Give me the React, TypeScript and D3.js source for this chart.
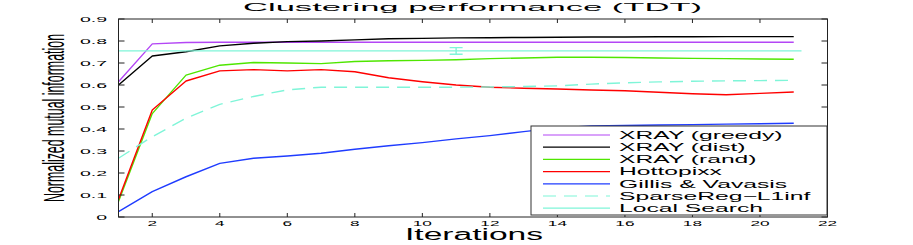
import React from "react";
import * as d3 from "d3";

const iterations = d3.range(1, 22);
const xTicks = [2, 4, 6, 8, 10, 12, 14, 16, 18, 20, 22];
const yTicks = [0, 0.1, 0.2, 0.3, 0.4, 0.5, 0.6, 0.7, 0.8, 0.9];

const xrayGreedy = [0.615, 0.787, 0.793, 0.794, 0.794, 0.794, 0.794, 0.794, 0.794, 0.794, 0.794, 0.794, 0.794, 0.794, 0.794, 0.794, 0.794, 0.794, 0.794, 0.794, 0.794];
const xrayDist = [0.6, 0.732, 0.751, 0.778, 0.79, 0.797, 0.8, 0.805, 0.81, 0.812, 0.814, 0.815, 0.816, 0.817, 0.818, 0.818, 0.819, 0.819, 0.82, 0.82, 0.82];
const xrayRand = [0.07, 0.47, 0.645, 0.69, 0.702, 0.7, 0.697, 0.707, 0.71, 0.712, 0.715, 0.72, 0.723, 0.726, 0.726, 0.725, 0.723, 0.721, 0.72, 0.718, 0.717];
const hottopixx = [0.08, 0.486, 0.618, 0.664, 0.67, 0.664, 0.67, 0.66, 0.633, 0.615, 0.6, 0.59, 0.585, 0.582, 0.577, 0.574, 0.567, 0.56, 0.556, 0.562, 0.568];
const gillisVavasis = [0.024, 0.115, 0.183, 0.244, 0.267, 0.277, 0.29, 0.308, 0.324, 0.338, 0.355, 0.37, 0.388, 0.405, 0.414, 0.416, 0.418, 0.42, 0.422, 0.424, 0.426];
const sparseReg = [0.267, 0.365, 0.449, 0.512, 0.548, 0.578, 0.59, 0.59, 0.59, 0.59, 0.59, 0.591, 0.593, 0.596, 0.604, 0.61, 0.614, 0.617, 0.619, 0.62, 0.621];
const localSearchX = [1, 21.23];
const localSearchValue = 0.755;
const localSearchErrX = 11;
const localSearchErr = 0.015;

const seriesNames = ["XRAY (greedy)", "XRAY (dist)", "XRAY (rand)", "Hottopixx", "Gillis & Vavasis", "SparseReg\u2212L1inf", "Local Search"];

const colors = ["#b446f5", "#000000", "#4fe600", "#ff0000", "#1f3cff", "#7ff5d8", "#7ff5d8"];

export default function App() {
  const W = 913, H = 245;
  const x = d3.scaleLinear().domain([1, 22]).range([118.5, 827.5]);
  const y = d3.scaleLinear().domain([0, 0.9]).range([217, 19]);
  const line = d3.line<[number, number]>().x((d) => x(d[0])).y((d) => y(d[1]));
  const seriesVals = [xrayGreedy, xrayDist, xrayRand, hottopixx, gillisVavasis, sparseReg];
  const font = "'Liberation Sans', Arial, sans-serif";
  const [x0, x1] = x.range();
  const [yb, yt] = y.range();

  const legendX0 = 531, legendX1 = 827, legendY0 = 126, legendY1 = 215;
  const rowY = (i: number) => 135 + i * 12.2;

  return (
    <svg width={W} height={H} style={{ position: "absolute", left: 0, top: 0, background: "#fff" }}>
      <rect x={0} y={0} width={W} height={H} fill="#fff" />
      {/* title */}
      <text x={472.5} y={10.5} fontFamily={font} fontSize={10.5} textAnchor="middle" textLength={459} lengthAdjust="spacingAndGlyphs">Clustering performance (TDT)</text>
      {/* series */}
      <g clipPath="url(#clip)">
        {seriesVals.map((vals, i) => (
          <path key={i} d={line(iterations.map((it, j) => [it, vals[j]] as [number, number])) || ""}
            fill="none" stroke={colors[i]} strokeWidth={1.4}
            strokeDasharray={i === 5 ? "13 8" : undefined} strokeLinejoin="round" />
        ))}
        <path d={line(localSearchX.map((v) => [v, localSearchValue] as [number, number])) || ""} fill="none" stroke={colors[6]} strokeWidth={1.4} />
        <g stroke={colors[6]} strokeWidth={1.4}>
          <line x1={x(localSearchErrX)} x2={x(localSearchErrX)} y1={y(localSearchValue - localSearchErr)} y2={y(localSearchValue + localSearchErr)} />
          <line x1={x(localSearchErrX) - 6.5} x2={x(localSearchErrX) + 6.5} y1={y(localSearchValue - localSearchErr)} y2={y(localSearchValue - localSearchErr)} />
          <line x1={x(localSearchErrX) - 6.5} x2={x(localSearchErrX) + 6.5} y1={y(localSearchValue + localSearchErr)} y2={y(localSearchValue + localSearchErr)} />
        </g>
      </g>
      <defs>
        <clipPath id="clip"><rect x={x0} y={yt} width={x1 - x0} height={yb - yt} /></clipPath>
      </defs>
      {/* axes box */}
      <rect x={x0} y={yt} width={x1 - x0} height={yb - yt} fill="none" stroke="#222" strokeWidth={1} />
      {xTicks.map((t) => (
        <g key={"xt" + t}>
          <line x1={x(t)} x2={x(t)} y1={yb} y2={yb - 4} stroke="#222" />
          <line x1={x(t)} x2={x(t)} y1={yt} y2={yt + 4} stroke="#222" />
          <text transform={`translate(${x(t)},226) scale(2.3,1)`} fontFamily={font} fontSize={7.5} textAnchor="middle">{t}</text>
        </g>
      ))}
      {yTicks.map((t) => (
        <g key={"yt" + t}>
          <line x1={x0} x2={x0 + 6} y1={y(t)} y2={y(t)} stroke="#222" />
          <line x1={x1} x2={x1 - 6} y1={y(t)} y2={y(t)} stroke="#222" />
          <text transform={`translate(107,${y(t) + 3}) scale(2.6,1)`} fontFamily={font} fontSize={7.5} textAnchor="end">{t === 0 ? "0" : t.toFixed(1)}</text>
        </g>
      ))}
      {/* axis labels */}
      <text x={474} y={240} fontFamily={font} fontSize={16} textAnchor="middle" textLength={138} lengthAdjust="spacingAndGlyphs">Iterations</text>
      <text transform="translate(64,118) rotate(-90) scale(1,2.45)" fontFamily={font} fontSize={12.4} textAnchor="middle">Normalized mutual information</text>
      {/* legend */}
      <rect x={legendX0} y={legendY0} width={legendX1 - legendX0} height={legendY1 - legendY0} fill="#fff" stroke="#333" strokeWidth={1} />
      {seriesNames.map((name, i) => (
        <g key={name}>
          <line x1={543} x2={610} y1={rowY(i)} y2={rowY(i)} stroke={colors[i]} strokeWidth={1.2} strokeDasharray={i === 5 ? "13 8" : undefined} />
          <text transform={`translate(619,${rowY(i) + 3.8}) scale(2.35,1)`} fontFamily={font} fontSize={10.5}>{name}</text>
        </g>
      ))}
    </svg>
  );
}
